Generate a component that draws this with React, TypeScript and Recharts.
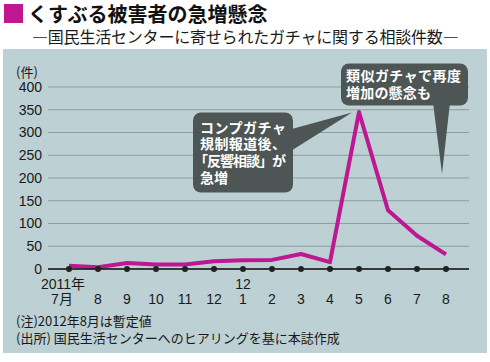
import React from 'react';
import { LineChart, Line, XAxis, YAxis, CartesianGrid, ReferenceDot } from 'recharts';

const months = ['7月', '8', '9', '10', '11', '12', '1', '2', '3', '4', '5', '6', '7', '8'];
const yearLabels = ['2011年', '', '', '', '', '', '12', '', '', '', '', '', '', ''];
const counts = [7, 4, 13, 10, 10, 17, 19, 20, 33, 15, 345, 129, 73, 32];
const yTicks = [0, 50, 100, 150, 200, 250, 300, 350, 400];
const peakIndex = 10;

const data = months.map((m, i) => ({ idx: i, count: counts[i], base: 0 }));

const NUM_FONT = '"Liberation Sans", Arial, "Noto Sans CJK JP", sans-serif';
const JP_FONT = '"Noto Sans CJK JP", "Noto Sans", sans-serif';
const BUBBLE = '#4d5655';
const MAGENTA = '#bd1791';

const MonthTick = (props: any) => {
  const { x, y, payload } = props;
  const i = payload.value as number;
  const off = i === 0 ? -7 : 0;
  return (
    <g fontFamily={NUM_FONT} fontSize={14} fill="#1a1a1a">
      {yearLabels[i] ? (
        <text x={x + (i === 0 ? -6 : 0)} y={y + 20} textAnchor="middle">
          {yearLabels[i]}
        </text>
      ) : null}
      <text x={x + off} y={y + 35} textAnchor="middle">
        {months[i]}
      </text>
    </g>
  );
};

const Callouts = (props: any) => {
  const { cx, cy } = props;
  const b1x = cx - 166;
  const b1y = cy + 0.5;
  const b1w = 100;
  const b1h = 80;
  const b2x = cx - 18;
  const b2y = cy - 48.5;
  const b2w = 127;
  const b2h = 42;
  return (
    <g>
      <path
        d={`M ${b1x + b1w - 3} ${cy + 17.5} L ${cx - 7} ${cy + 0.5} L ${b1x + b1w - 3} ${cy + 39.5} Z`}
        fill={BUBBLE}
      />
      <rect x={b1x} y={b1y} width={b1w} height={b1h} rx={8} ry={8} fill={BUBBLE} />
      <path
        d={`M ${cx + 74} ${b2y + b2h - 3} L ${cx + 83} ${cy + 62} L ${cx + 91} ${b2y + b2h - 3} Z`}
        fill={BUBBLE}
      />
      <rect x={b2x} y={b2y} width={b2w} height={b2h} rx={8} ry={8} fill={BUBBLE} />
      <g fontFamily={JP_FONT} fontWeight="bold" fontSize={14} fill="#ffffff">
        <text x={cx - 159} y={cy + 20.5} textLength={86} lengthAdjust="spacing">コンプガチャ</text>
        <text x={cx - 159} y={cy + 37} textLength={86} lengthAdjust="spacing">規制報道後、</text>
        <text x={cx - 165} y={cy + 53.5} textLength={92} lengthAdjust="spacing">「反響相談」が</text>
        <text x={cx - 159} y={cy + 70.5}>急増</text>
        <text x={cx - 13} y={cy - 31.5} textLength={115} lengthAdjust="spacing">類似ガチャで再度</text>
        <text x={cx - 13} y={cy - 14.5} textLength={85} lengthAdjust="spacing">増加の懸念も</text>
      </g>
    </g>
  );
};

export default function App() {
  return (
    <div
      style={{
        position: 'absolute',
        left: 0,
        top: 0,
        width: 490,
        height: 362,
        background: '#ffffff',
        overflow: 'hidden',
      }}
    >
      <div style={{ position: 'absolute', left: 3, top: 49, width: 484, height: 304, background: '#bdd0d3' }} />
      <div style={{ position: 'absolute', left: 4, top: 4, width: 19, height: 19, background: '#c0168f' }} />
      <div
        style={{
          position: 'absolute',
          left: 28,
          top: 2,
          fontFamily: JP_FONT,
          fontWeight: 'bold',
          fontSize: 20,
          lineHeight: '24px',
          color: '#111',
          whiteSpace: 'nowrap',
        }}
      >
        くすぶる被害者の急増懸念
      </div>
      <div
        style={{
          position: 'absolute',
          left: 32,
          top: 26,
          fontFamily: JP_FONT,
          fontSize: 16,
          lineHeight: '20px',
          color: '#1a1a1a',
          whiteSpace: 'nowrap',
          letterSpacing: -0.2,
        }}
      >
        ―国民生活センターに寄せられたガチャに関する相談件数―
      </div>
      <div
        style={{
          position: 'absolute',
          left: 16,
          top: 64,
          fontFamily: JP_FONT,
          fontSize: 13,
          lineHeight: '16px',
          color: '#1a1a1a',
          whiteSpace: 'nowrap',
        }}
      >
        (件)
      </div>
      <div style={{ position: 'absolute', left: 0, top: 0 }}>
        <LineChart width={490} height={362} data={data} margin={{ top: 87, right: 21, bottom: 0, left: 0 }}>
          <CartesianGrid horizontal vertical={false} stroke="#8a9ea0" strokeWidth={1} />
          <XAxis
            dataKey="idx"
            type="category"
            height={93}
            padding={{ left: 21, right: 23 }}
            tickLine={false}
            tickSize={0}
            tickMargin={0}
            axisLine={{ stroke: '#111', strokeWidth: 1.5 }}
            tick={<MonthTick />}
            interval={0}
          />
          <YAxis
            type="number"
            domain={[0, 400]}
            ticks={yTicks}
            width={48}
            axisLine={false}
            tickLine={false}
            tickSize={0}
            tickMargin={6}
            tick={{ fill: '#1a1a1a', fontSize: 14, fontFamily: NUM_FONT }}
            interval={0}
          />
          <Line
            dataKey="count"
            stroke={MAGENTA}
            strokeWidth={4}
            dot={false}
            isAnimationActive={false}
            strokeLinejoin="round"
          />
          <Line
            dataKey="base"
            stroke="none"
            dot={{ r: 3, fill: '#222', stroke: 'none' }}
            isAnimationActive={false}
          />
          <ReferenceDot x={peakIndex} y={counts[peakIndex]} shape={<Callouts />} />
        </LineChart>
      </div>
      <div
        style={{
          position: 'absolute',
          left: 16,
          top: 313,
          fontFamily: JP_FONT,
          fontSize: 13,
          lineHeight: '16px',
          color: '#1a1a1a',
          whiteSpace: 'nowrap',
        }}
      >
        (注)2012年8月は暫定値
      </div>
      <div
        style={{
          position: 'absolute',
          left: 16,
          top: 330,
          fontFamily: JP_FONT,
          fontSize: 13,
          lineHeight: '16px',
          color: '#1a1a1a',
          whiteSpace: 'nowrap',
        }}
      >
        (出所)<span style={{ marginLeft: 3 }}>国民生活センターへのヒアリングを基に本誌作成</span>
      </div>
    </div>
  );
}
